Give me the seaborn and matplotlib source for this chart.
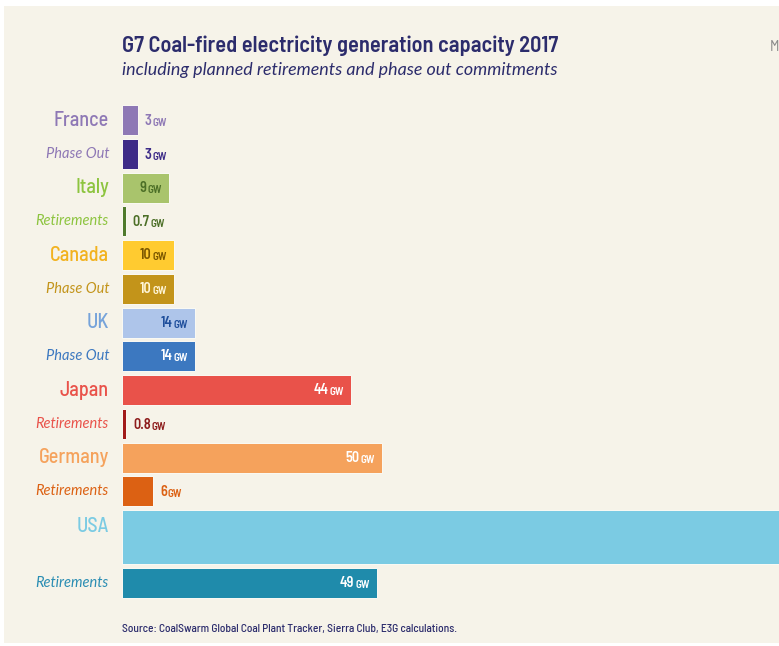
import numpy as np
import pandas as pd
import matplotlib.pyplot as plt
import seaborn as sns
from matplotlib.patches import Rectangle

# values, GW
countries = ["France", "Italy", "Canada", "UK", "Japan", "Germany", "USA"]
capacity_gw = [3, 9, 10, 14, 44, 50, 261]
commit_labels = ["Phase Out", "Retirements", "Phase Out", "Phase Out",
                 "Retirements", "Retirements", "Retirements"]
commit_gw = [3, 0.7, 10, 14, 0.8, 6, 49]

# styles
bar_main = ["#8e78b5", "#a9c46c", "#ffcb30", "#aec5ea", "#e9524a", "#f5a25c", "#7bcbe3"]
bar_commit = ["#3d2b88", "#4f7a2c", "#c3941a", "#3c78c0", "#a11a1a", "#dc6113", "#1f8bab"]
txt_main = ["#8e78b5", "#8dc43f", "#f2b21f", "#76a3da", "#e9524a", "#f5a25c", "#7bcbe3"]
txt_commit = ["#8e78b5", "#8dc43f", "#c3941a", "#3c78c0", "#e9524a", "#dc6113", "#2a8db3"]
val_main = ["#8e78b5", "#4c6f27", "#7a5600", "#1f4f9c", "white", "white", "white"]
val_commit = ["#3d2b88", "#4c6f27", "#fff6d8", "white", "#8d1c1c", "#dc6113", "white"]

bg = "#f6f3e9"
navy = "#2c2c6c"
cond = ["Barlow Semi Condensed", "Barlow Condensed", "DejaVu Sans"]
ital = ["Lato", "DejaVu Sans"]

rows = []
for i, c in enumerate(countries):
    rows.append(dict(key=c, label=c, gw=capacity_gw[i], main=True,
                     bar=bar_main[i], txt=txt_main[i], val=val_main[i]))
    rows.append(dict(key=c + " " + commit_labels[i], label=commit_labels[i],
                     gw=commit_gw[i], main=False,
                     bar=bar_commit[i], txt=txt_commit[i], val=val_commit[i]))
df = pd.DataFrame(rows)
# row layout: USA bar is drawn taller than the others
df["pos"] = list(range(12)) + [12.36, 13.73]
palette = dict(zip(df["key"], df["bar"]))

sns.set_theme(style="white")
plt.rcParams["font.family"] = cond

fig = plt.figure(figsize=(7.79, 6.46), dpi=100)
fig.patch.set_facecolor("white")
fig.patches.append(Rectangle((4 / 779, 3 / 646), 1, 1 - 9 / 646, transform=fig.transFigure,
                             facecolor=bg, edgecolor="none", zorder=-10))

ax = fig.add_axes([122 / 779, 36 / 646, 657 / 779, 510 / 646])
ax.set_facecolor("none")

is_usa = df["key"] == "USA"
sns.barplot(data=df[~is_usa], x="gw", y="pos", hue="key", palette=palette, orient="h",
            native_scale=True, width=0.89, dodge=False, legend=False, errorbar=None,
            saturation=1, edgecolor="#fbfaf4", linewidth=0.7, ax=ax)
sns.barplot(data=df[is_usa], x="gw", y="pos", hue="key", palette=palette, orient="h",
            native_scale=True, width=1.61, dodge=False, legend=False, errorbar=None,
            saturation=1, edgecolor="#fbfaf4", linewidth=0.7, ax=ax)

step, top0 = 33.73, 120.3
ax.set_ylim((610 - top0) / step, (100 - top0) / step)
ax.set_xlim(0, 657 / 5.2)
ax.axis("off")

for _, r in df.iterrows():
    # category label on the left
    dy = 11 if r["key"] == "USA" else 0
    if r["main"]:
        ax.annotate(r["label"], xy=(0, r["pos"]), xytext=(-13, dy), textcoords="offset pixels",
                    ha="right", va="center", fontsize=14.5, fontweight="medium",
                    color=r["txt"], family=cond)
    else:
        ax.annotate(r["label"], xy=(0, r["pos"]), xytext=(-13, 0), textcoords="offset pixels",
                    ha="right", va="center", fontsize=10.5, color=r["txt"], family=ital,
                    style="italic")
    if r["key"] == "USA":
        continue
    # value label: number plus small-caps GW
    num = f"{r['gw']:g}"
    if r["gw"] < 7:
        t = ax.annotate(num, xy=(r["gw"], r["pos"]), xytext=(7, -1), textcoords="offset pixels",
                        ha="left", va="center", fontsize=10.3, fontweight="semibold",
                        color=r["val"])
        ax.annotate("GW", xy=(1, 0), xycoords=t, xytext=(0.8, 0), textcoords="offset pixels",
                    ha="left", va="bottom", fontsize=8, fontweight="semibold", color=r["val"])
    else:
        g = ax.annotate("GW", xy=(r["gw"], r["pos"]), xytext=(-7, -2), textcoords="offset pixels",
                        ha="right", va="center", fontsize=8, fontweight="semibold",
                        color=r["val"])
        ax.annotate(num, xy=(0, 0), xycoords=g, xytext=(-0.8, 0), textcoords="offset pixels",
                    ha="right", va="bottom", fontsize=10.3, fontweight="semibold",
                    color=r["val"])

fig.text(122 / 779, 1 - 52 / 646, "G7 Coal-fired electricity generation capacity 2017",
         fontsize=16.1, fontweight="semibold", color=navy, family=cond, va="baseline")
fig.text(122 / 779, 1 - 75 / 646, "including planned retirements and phase out commitments",
         fontsize=12.9, style="italic", color=navy, family=ital, va="baseline")
fig.text(770 / 779, 1 - 51 / 646, "M", fontsize=11, color="#8a8a8a", family=cond, va="baseline")
fig.text(122 / 779, 1 - 632 / 646,
         "Source: CoalSwarm Global Coal Plant Tracker, Sierra Club, E3G calculations.",
         fontsize=8.2, fontweight="medium", color=navy, family=cond, va="baseline")

fig.savefig("out.png", dpi=100, facecolor=fig.get_facecolor())
